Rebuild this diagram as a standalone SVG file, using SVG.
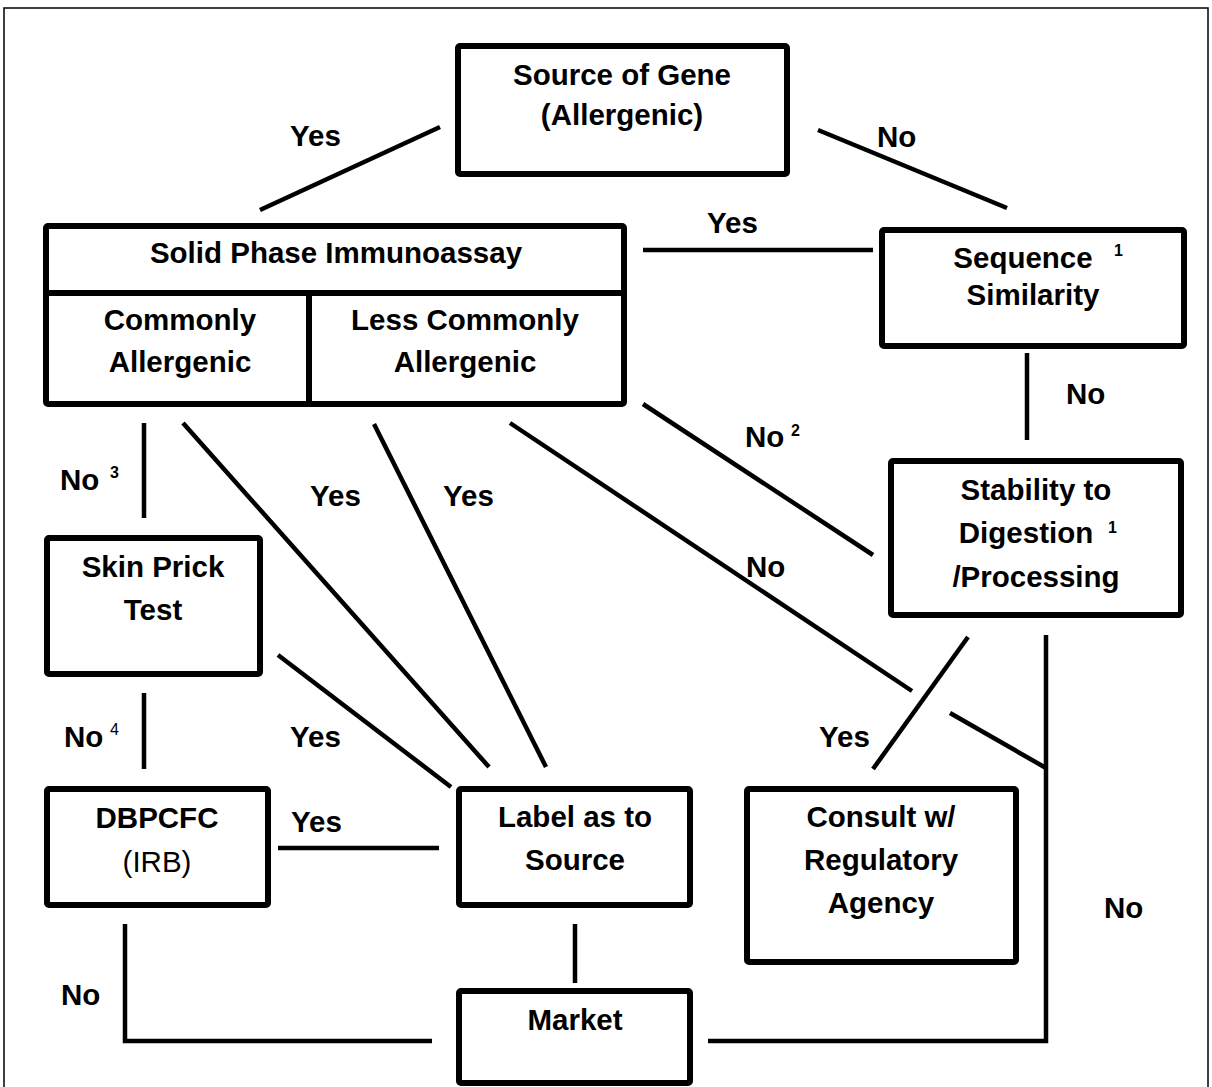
<svg xmlns="http://www.w3.org/2000/svg" width="1212" height="1087" viewBox="0 0 1212 1087">
<style>
.box{fill:#fff;stroke:#000;stroke-width:6;stroke-linejoin:round}
.div{stroke:#000;stroke-width:6;fill:none}
.c{stroke:#000;stroke-width:4.5;fill:none;stroke-linecap:butt}
text{font-family:"Liberation Sans",Arial,sans-serif;font-weight:bold;font-size:29.5px;fill:#000}
.t{text-anchor:middle}
.sup{font-size:16px}
.reg{font-weight:normal}
</style>
<rect x="4" y="8" width="1204" height="1100" fill="none" stroke="#000" stroke-width="1.5"/>
<g id="connectors">
<line class="c" x1="440" y1="127" x2="260" y2="210"/>
<line class="c" x1="818" y1="130" x2="1007" y2="208"/>
<line class="c" x1="643" y1="250" x2="873" y2="250"/>
<line class="c" x1="1027" y1="353" x2="1027" y2="440"/>
<line class="c" x1="643" y1="404" x2="873" y2="555"/>
<line class="c" x1="144" y1="423" x2="144" y2="518"/>
<line class="c" x1="183" y1="423" x2="489" y2="767"/>
<line class="c" x1="374" y1="424" x2="546" y2="767"/>
<line class="c" x1="510" y1="423" x2="912" y2="691"/>
<line class="c" x1="950" y1="713" x2="1046" y2="768"/>
<line class="c" x1="968" y1="637" x2="873" y2="769"/>
<line class="c" x1="278" y1="655" x2="451" y2="787"/>
<line class="c" x1="144" y1="693" x2="144" y2="769"/>
<line class="c" x1="278" y1="848" x2="439" y2="848"/>
<line class="c" x1="575" y1="924" x2="575" y2="983"/>
<polyline class="c" points="125,924 125,1041 432,1041"/>
<polyline class="c" points="708,1041 1046,1041 1046,635"/>
</g>
<g id="labels">
<text x="290" y="146">Yes</text>
<text x="877" y="147">No</text>
<text x="707" y="233">Yes</text>
<text x="1066" y="404">No</text>
<text x="745" y="447">No</text><text class="sup" x="791" y="436">2</text>
<text x="60" y="490">No</text><text class="sup" x="110" y="478">3</text>
<text x="310" y="506">Yes</text>
<text x="443" y="506">Yes</text>
<text x="746" y="577">No</text>
<text x="290" y="747">Yes</text>
<text x="819" y="747">Yes</text>
<text x="64" y="747">No</text><text class="sup reg" x="110" y="735">4</text>
<text x="291" y="832">Yes</text>
<text x="1104" y="918">No</text>
<text x="61" y="1005">No</text>
</g>
<g id="source">
<rect class="box" x="458" y="46" width="329" height="128" rx="2"/>
<text class="t" x="622" y="85">Source of Gene</text>
<text class="t" x="622" y="125">(Allergenic)</text>
</g>
<g id="solid-phase">
<rect class="box" x="46" y="226" width="578" height="178" rx="2"/>
<line class="div" x1="46" y1="293" x2="624" y2="293"/>
<line class="div" x1="309" y1="293" x2="309" y2="404"/>
<text class="t" x="336" y="263">Solid Phase Immunoassay</text>
<text class="t" x="180" y="330">Commonly</text>
<text class="t" x="180" y="372">Allergenic</text>
<text class="t" x="465" y="330">Less Commonly</text>
<text class="t" x="465" y="372">Allergenic</text>
</g>
<g id="sequence">
<rect class="box" x="882" y="230" width="302" height="116" rx="2"/>
<text class="t" x="1023" y="268">Sequence</text><text class="sup" x="1114" y="256">1</text>
<text class="t" x="1033" y="305">Similarity</text>
</g>
<g id="stability">
<rect class="box" x="891" y="461" width="290" height="154" rx="2"/>
<text class="t" x="1036" y="500">Stability to</text>
<text class="t" x="1026" y="543">Digestion</text><text class="sup" x="1108" y="533">1</text>
<text class="t" x="1036" y="587">/Processing</text>
</g>
<g id="skin-prick">
<rect class="box" x="47" y="538" width="213" height="136" rx="2"/>
<text class="t" x="153" y="577">Skin Prick</text>
<text class="t" x="153" y="620">Test</text>
</g>
<g id="dbpcfc">
<rect class="box" x="47" y="789" width="221" height="116" rx="2"/>
<text class="t" x="157" y="828">DBPCFC</text>
<text class="t reg" x="157" y="872">(IRB)</text>
</g>
<g id="label-source">
<rect class="box" x="459" y="789" width="231" height="116" rx="2"/>
<text class="t" x="575" y="827">Label as to</text>
<text class="t" x="575" y="870">Source</text>
</g>
<g id="consult">
<rect class="box" x="747" y="789" width="269" height="173" rx="2"/>
<text class="t" x="881" y="827">Consult w/</text>
<text class="t" x="881" y="870">Regulatory</text>
<text class="t" x="881" y="913">Agency</text>
</g>
<g id="market">
<rect class="box" x="459" y="991" width="231" height="92" rx="2"/>
<text class="t" x="575" y="1030">Market</text>
</g>
</svg>
